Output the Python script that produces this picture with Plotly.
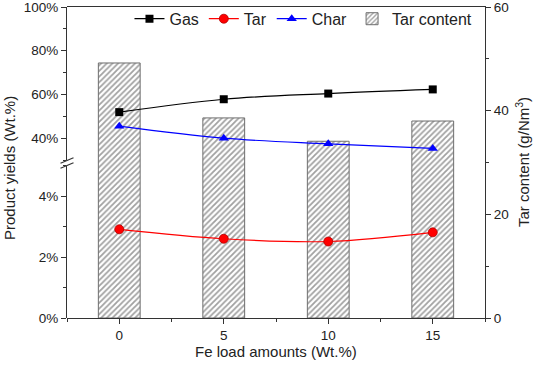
import plotly.graph_objects as go

fe_load = [0, 5, 10, 15]
gas = [51.9, 57.8, 60.4, 62.3]
char = [45.5, 40.0, 37.4, 35.3]
tar = [2.91, 2.60, 2.51, 2.81]
tar_content = [49.2, 38.6, 34.1, 38.0]

upper_ticks = [40, 60, 80, 100]
lower_ticks = [0, 2, 4]
right_ticks = [0, 20, 40, 60]
x_ticks = [0, 5, 10, 15]

FONT = "Liberation Sans, Arial, sans-serif"
W, H = 533, 369
L, R, T, B = 67, 48, 7, 51
PW, PH = W - L - R, H - T - B

fig = go.Figure()

# bars (right axis, base axis y)
fig.add_trace(go.Bar(
    x=fe_load, y=tar_content, name="Tar content", width=2, yaxis="y", legendrank=4,
    marker=dict(color="white", line=dict(color="#6e6e6e", width=1),
                pattern=dict(shape="/", fgcolor="#444444", bgcolor="white",
                             size=4, solidity=0.45)),
))
fig.add_trace(go.Scatter(
    x=fe_load, y=gas, name="Gas", yaxis="y3", mode="lines+markers", legendrank=1,
    line=dict(color="black", width=1.2, shape="spline"),
    marker=dict(symbol="square", size=8, color="black"),
))
fig.add_trace(go.Scatter(
    x=fe_load, y=tar, name="Tar", yaxis="y2", mode="lines+markers", legendrank=2,
    line=dict(color="red", width=1.2, shape="spline"),
    marker=dict(symbol="circle", size=9, color="red", line=dict(color="#b00000", width=0.8)),
))
fig.add_trace(go.Scatter(
    x=fe_load, y=char, name="Char", yaxis="y3", mode="lines+markers", legendrank=3,
    line=dict(color="blue", width=1.2, shape="spline"),
    marker=dict(symbol="triangle-up", size=9, color="blue"),
))

axis_common = dict(showgrid=False, zeroline=False, showline=True, linecolor="#333333",
                   linewidth=1.2, ticks="outside", ticklen=5, tickwidth=1.2, automargin=False,
                   ticklabeloverflow="allow",
                   tickcolor="#333333", tickfont=dict(family=FONT, size=13.5, color="#222"))

lower_top = 0.490
upper_bot = 0.508

fig.update_layout(
    width=W, height=H,
    margin=dict(l=L, r=R, t=T, b=B, autoexpand=False),
    paper_bgcolor="white", plot_bgcolor="rgba(0,0,0,0)",
    font=dict(family=FONT, color="#222"),
    showlegend=True,
    legend=dict(orientation="h", x=0.982, xanchor="right", y=0.962, yanchor="middle",
                bgcolor="rgba(0,0,0,0)", font=dict(family=FONT, size=16, color="#222"),
                traceorder="normal", itemwidth=30),
    xaxis=dict(**axis_common, range=[-2.5, 17.5], tickvals=x_ticks,
               ticktext=[str(v) for v in x_ticks],
               minor=dict(tickvals=[-2.5, 2.5, 7.5, 12.5, 17.5], ticklen=3, tickcolor="#333333"),
               mirror=True, anchor="y"),
    yaxis=dict(**axis_common, side="right", range=[0, 60], domain=[0, 1], anchor="x",
               tickvals=right_ticks, ticktext=[str(v) for v in right_ticks],
               minor=dict(tickvals=[10, 30, 50], ticklen=3, tickcolor="#333333")),
    yaxis2=dict(**axis_common, side="left", range=[0, 5], domain=[0, lower_top], anchor="x",
                tickvals=lower_ticks, ticktext=[f"{v}%" for v in lower_ticks],
                minor=dict(tickvals=[1, 3, 5], ticklen=3, tickcolor="#333333")),
    yaxis3=dict(**axis_common, side="left", range=[30, 100], domain=[upper_bot, 1], anchor="x",
                tickvals=upper_ticks, ticktext=[f"{v}%" for v in upper_ticks],
                minor=dict(tickvals=[30, 50, 70, 90], ticklen=3, tickcolor="#333333")),
    barmode="overlay",
)

title_font = dict(family=FONT, size=15, color="#222")
# left axis title spanning both segments
fig.add_annotation(text="Product yields (Wt.%)", xref="paper", yref="paper",
                   x=(10 - L) / PW, y=(318 - 168) / PH, textangle=-90, showarrow=False,
                   xanchor="center", yanchor="middle", font=title_font)
# right axis title
fig.add_annotation(text="Tar content (g/Nm<sup>3</sup>)", xref="paper", yref="paper",
                   x=(522 - L) / PW, y=(318 - 162) / PH, textangle=-90, showarrow=False,
                   xanchor="center", yanchor="middle", font=title_font)
# x axis title
fig.add_annotation(text="Fe load amounts (Wt.%)", xref="paper", yref="paper",
                   x=(276 - L) / PW, y=(318 - 351) / PH, showarrow=False,
                   xanchor="center", yanchor="middle", font=title_font)

# axis break marks
dx, dy = 6.5 / PW, 2.7 / PH
for yc in [(318 - 160.5) / PH, (318 - 165.5) / PH]:
    fig.add_shape(type="line", xref="paper", yref="paper",
                  x0=-dx, y0=yc - dy, x1=dx, y1=yc + dy,
                  line=dict(color="#333333", width=1.2))

fig.write_html("out.html", config={"displayModeBar": False},
               post_script="document.body.style.margin='0';document.body.style.overflow='hidden';")
